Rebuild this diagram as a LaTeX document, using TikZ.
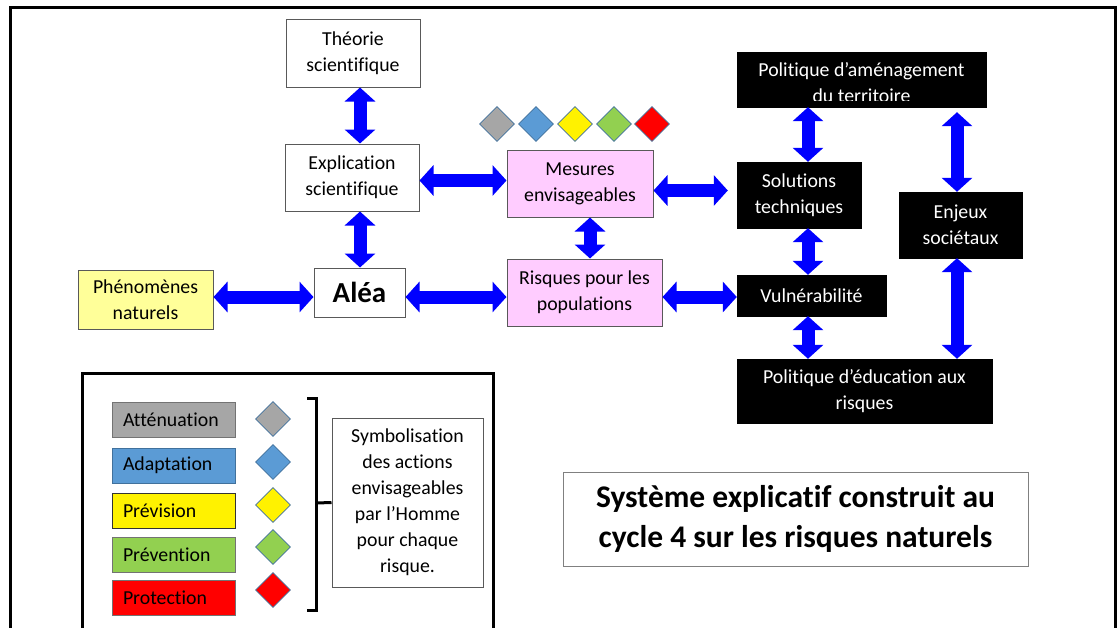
\documentclass[tikz,border=0pt]{standalone}
\usepackage{fontspec}
\setmainfont{Carlito}[Ligatures=CommonOff]
\usetikzlibrary{arrows.meta,shapes.geometric}

\definecolor{pinkbox}{HTML}{FFCCFF}
\definecolor{paleyellow}{HTML}{FFFF99}
\definecolor{attgray}{HTML}{A6A6A6}
\definecolor{adablue}{HTML}{5B9BD5}
\definecolor{prevgreen}{HTML}{92D050}
\definecolor{edgeblue}{HTML}{41719C}

\begin{document}
\begin{tikzpicture}[x=1pt,y=-1pt,
  every node/.style={inner sep=0pt, font=\fontsize{19.8}{26}\selectfont},
  whitebox/.style={draw=black!65, fill=white, line width=1pt, align=center},
  pinkcard/.style={draw=black!65, fill=pinkbox, line width=1pt, align=center},
  blackbox/.style={draw=black, fill=black, text=white, align=center},
  legendbox/.style={line width=1pt, text width=101pt, inner xsep=11pt, minimum height=35pt, align=left},
  gem/.style={diamond, aspect=1, draw=edgeblue, line width=0.8pt, minimum width=35pt, minimum height=35pt},
  dblarrow/.style={draw=blue, line width=13pt,
    {Triangle[width=30pt,length=14pt]}-{Triangle[width=30pt,length=14pt]}},
]
\clip (0,0) rectangle (1119,627);
\fill[white] (0,0) rectangle (1119,627);

% outer frame, open at the bottom
\draw[line width=3pt] (10,650) -- (10,7) -- (1115,7) -- (1115,650);

% ---- left column: science ----
\node[whitebox, minimum width=134pt, minimum height=68pt] (theo) at (353,53) {Théorie\\scientifique};
\node[whitebox, minimum width=134pt, minimum height=67pt] (expl) at (352,177.5) {Explication\\scientifique};
\node[whitebox, minimum width=91pt, minimum height=49pt,
      font=\fontsize{29}{32}\selectfont\bfseries] (alea) at (359.5,292.5) {Aléa};
\node[draw=black!65, fill=paleyellow, line width=1pt, align=center,
      minimum width=135pt, minimum height=59pt] (phen) at (145.5,299.5) {Phénomènes\\naturels};

% ---- middle column ----
\node[pinkcard, minimum width=146pt, minimum height=67pt] (mes) at (580,183.5) {Mesures\\envisageables};
\node[pinkcard, minimum width=155pt, minimum height=67pt] (risq) at (584.5,292.5) {Risques pour les\\populations};

% colour code above the measures
\node[gem, fill=attgray] (d1) at (497,124) {};
\node[gem, fill=adablue] (d2) at (536,124) {};
\node[gem, fill=yellow] (d3) at (575,124) {};
\node[gem, fill=prevgreen] (d4) at (614,124) {};
\node[gem, fill=red] (d5) at (652,124) {};

% ---- right column: society ----
\node[blackbox, minimum width=249pt, minimum height=55pt] (amen) at (861.5,79.5) {};
\begin{scope}
  \clip (amen.north west) rectangle ([yshift=6.5pt]amen.south east);
  \node[text=white, align=center] (amentext) at (861.5,83) {Politique d’aménagement\\du territoire};
\end{scope}
\node[blackbox, minimum width=124pt, minimum height=66pt] (sol) at (799,195) {Solutions\\techniques};
\node[blackbox, minimum width=123pt, minimum height=66pt] (enj) at (960.5,225) {Enjeux\\sociétaux};
\node[blackbox, minimum width=149pt, minimum height=41pt] (vul) at (811.5,295.5) {Vulnérabilité};
\node[blackbox, minimum width=255pt, minimum height=64pt] (edu) at (864.5,391) {Politique d’éducation aux\\risques};

% ---- connectors ----
\draw[dblarrow] ([xshift=7pt]theo.south) -- ([xshift=7pt]theo.south |- expl.north);
\draw[dblarrow] ([xshift=8pt]expl.south) -- ([xshift=8pt]expl.south |- alea.north);
\draw[dblarrow] ([yshift=-3pt]expl.east) -- ([yshift=-3pt]expl.east -| mes.west);
\draw[dblarrow] ([yshift=2.5pt]phen.east) -- ([yshift=2.5pt]phen.east -| alea.west);
\draw[dblarrow] ([yshift=-4.5pt]alea.east) -- ([yshift=-4.5pt]alea.east -| risq.west);
\draw[dblarrow] ([xshift=10pt]mes.south) -- ([xshift=10pt]mes.south |- risq.north);
\draw[dblarrow, shorten >=9pt] ([yshift=-7pt]mes.east) -- ([yshift=-7pt]mes.east -| sol.west);
\draw[dblarrow] ([yshift=-4.5pt]risq.east) -- ([yshift=-4.5pt]risq.east -| vul.west);
\draw[dblarrow] ([xshift=-53.5pt]amen.south) -- ([xshift=-53.5pt]amen.south |- sol.north);
\draw[dblarrow] ([xshift=9pt]sol.south) -- ([xshift=9pt]sol.south |- vul.north);
\draw[dblarrow] ([xshift=-3.5pt]vul.south) -- ([xshift=-3.5pt]vul.south |- edu.north);
\draw[dblarrow, shorten >=5pt] ([xshift=-3.5pt]enj.north) -- ([xshift=-3.5pt]enj.north |- amen.south);
\draw[dblarrow] ([xshift=-3.5pt]enj.south) -- ([xshift=-3.5pt]enj.south |- edu.north);

% ---- legend ----
\draw[line width=3pt] (82,640) -- (82,373) -- (493,373) -- (493,640);
\node[legendbox, draw=black!55, fill=attgray] (latt) at (173.5,420) {Atténuation};
\node[legendbox, draw=edgeblue, fill=adablue] (lada) at (173.5,465.5) {Adaptation};
\node[legendbox, draw=black!80, fill=yellow] (lprevi) at (173.5,511) {Prévision};
\node[legendbox, draw=black!55, fill=prevgreen] (lpreve) at (173.5,555) {Prévention};
\node[legendbox, draw=black!55, fill=red] (lprot) at (173.5,598) {Protection};

\node[gem, fill=attgray] (g1) at (273,419) {};
\node[gem, fill=adablue] (g2) at (273,462) {};
\node[gem, fill=yellow] (g3) at (273,505) {};
\node[gem, fill=prevgreen] (g4) at (273,547) {};
\node[gem, fill=red] (g5) at (273,590) {};

\node[whitebox, minimum width=151pt, minimum height=169pt] (sym) at (407.5,502.5)
  {Symbolisation\\des actions\\envisageables\\par l’Homme\\pour chaque\\risque.};
\coordinate (brace) at (316,503);
\draw[line width=3pt] (307,398) -- (316,398) -- (316,610) -- (307,610);
\draw[line width=3pt] (brace) -- (sym.west);

% ---- title ----
\node[draw=black!50, fill=white, line width=1pt, align=center,
      minimum width=465pt, minimum height=94pt,
      font=\fontsize{31.5}{40}\selectfont\bfseries] (title) at (795.5,519)
  {Système explicatif construit au\\cycle 4 sur les risques naturels};
\end{tikzpicture}
\end{document}
